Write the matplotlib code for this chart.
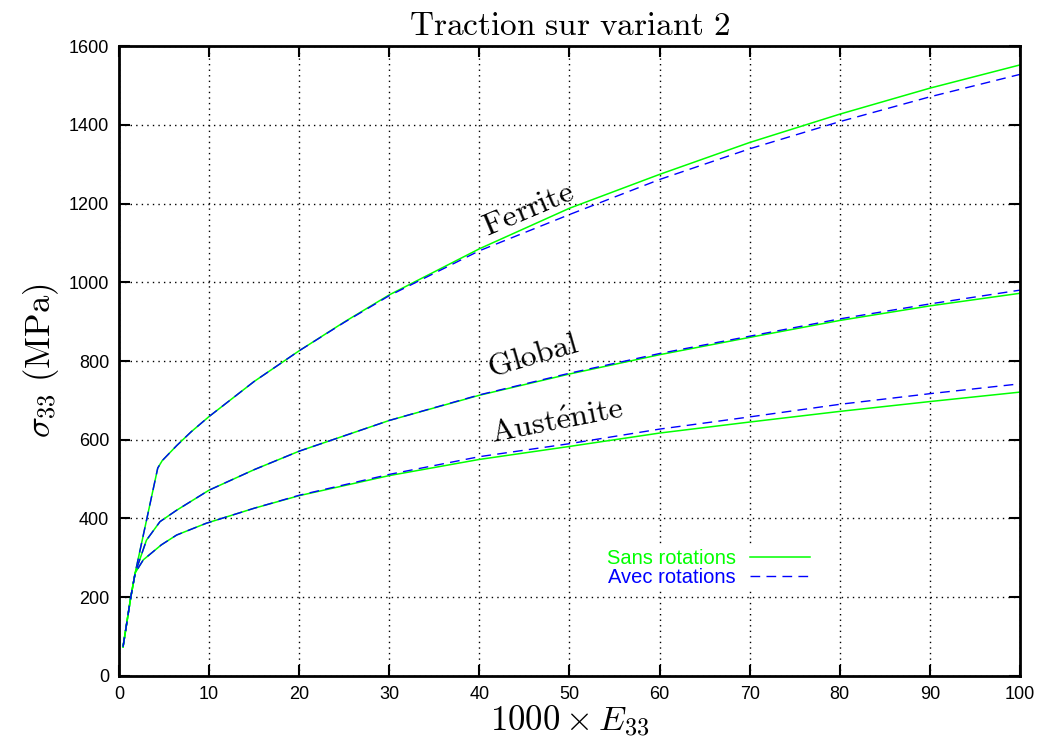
import matplotlib
matplotlib.use('Agg')
import matplotlib.pyplot as plt

plt.rcParams['mathtext.fontset'] = 'cm'
plt.rcParams['font.family'] = ['Liberation Sans', 'DejaVu Sans']

# Ferrite
x_fer = [0.45, 1.3, 1.8, 4.3, 4.8, 6.4, 8, 10, 15, 20, 25, 30, 40, 50, 60, 70, 80, 90, 100]
fer_sans = [74, 199, 262, 528, 547, 585, 620, 659, 748, 826, 899, 968, 1085, 1188, 1274, 1355, 1427, 1493, 1552]
fer_avec = [74, 199, 262, 528, 547, 585, 620, 659, 748, 826, 898, 966, 1080, 1172, 1261, 1339, 1408, 1471, 1528]

# Global
x_glo = [0.45, 1.3, 1.8, 3.05, 4.55, 6.4, 10, 15, 20, 30, 40, 50, 60, 70, 80, 90, 100]
glo_sans = [74, 199, 262, 345, 392, 421, 472, 524, 571, 649, 713, 767, 816, 860, 903, 940, 972]
glo_avec = [74, 199, 262, 345, 392, 421, 472, 524, 571, 649, 714, 769, 819, 863, 907, 945, 980]

# Austenite
x_aus = [0.45, 1.3, 1.8, 2.7, 4.7, 6.4, 9.7, 15, 20, 30, 40, 50, 60, 70, 80, 90, 100]
aus_sans = [74, 199, 262, 295, 333, 358, 388, 426, 458, 509, 550, 583, 617, 645, 672, 697, 721]
aus_avec = [74, 199, 262, 295, 333, 358, 388, 426, 459, 512, 557, 590, 627, 658, 690, 717, 742]

fig = plt.figure(figsize=(10.41, 7.51), dpi=100)
ax = fig.add_axes([0.1143, 0.0999, 0.8655, 0.8388])

green = '#00ff00'
blue = '#0000ff'
dash = (0, (7, 4.5))

ax.plot(x_fer, fer_sans, color=green, lw=1.1, label='Sans rotations')
ax.plot(x_fer, fer_avec, color=blue, lw=1.0, linestyle=dash, label='Avec rotations')
ax.plot(x_glo, glo_sans, color=green, lw=1.1)
ax.plot(x_glo, glo_avec, color=blue, lw=1.0, linestyle=dash)
ax.plot(x_aus, aus_sans, color=green, lw=1.1)
ax.plot(x_aus, aus_avec, color=blue, lw=1.0, linestyle=dash)

ax.set_xlim(0, 100)
ax.set_ylim(0, 1600)
ax.set_xticks(range(0, 101, 10))
ax.set_yticks(range(0, 1601, 200))
ax.grid(True, color='black', linestyle=(0, (1, 3)), linewidth=1.0)
ax.tick_params(direction='in', length=8, width=1.5, labelsize=13,
               top=True, right=True, pad=7)
for s in ax.spines.values():
    s.set_linewidth(2)

ax.set_title(r'$\mathrm{Traction\ sur\ variant\ 2}$', fontsize=24, pad=8)
ax.set_xlabel(r'$1000 \times E_{33}$', fontsize=25, labelpad=0)
ax.set_ylabel(r'$\sigma_{33}\ \mathrm{(MPa)}$', fontsize=25, labelpad=6)

ax.text(45.4, 1183, r'$\mathrm{Ferrite}$', fontsize=23, rotation=23,
        ha='center', va='center')
ax.text(46, 812, r'$\mathrm{Global}$', fontsize=23, rotation=16,
        ha='center', va='center')
ax.text(48.7, 645, r'$\mathrm{Aust\acute{e}nite}$', fontsize=23, rotation=11,
        ha='center', va='center')

leg = ax.legend(loc='center right', bbox_to_anchor=(0.783, 0.171), markerfirst=False,
                labelcolor='linecolor', fontsize=14.5, handlelength=3.0,
                handletextpad=0.7, labelspacing=0.0, borderpad=0.2,
                fancybox=False, framealpha=1, edgecolor='none')

fig.savefig('out.png', dpi=100)
